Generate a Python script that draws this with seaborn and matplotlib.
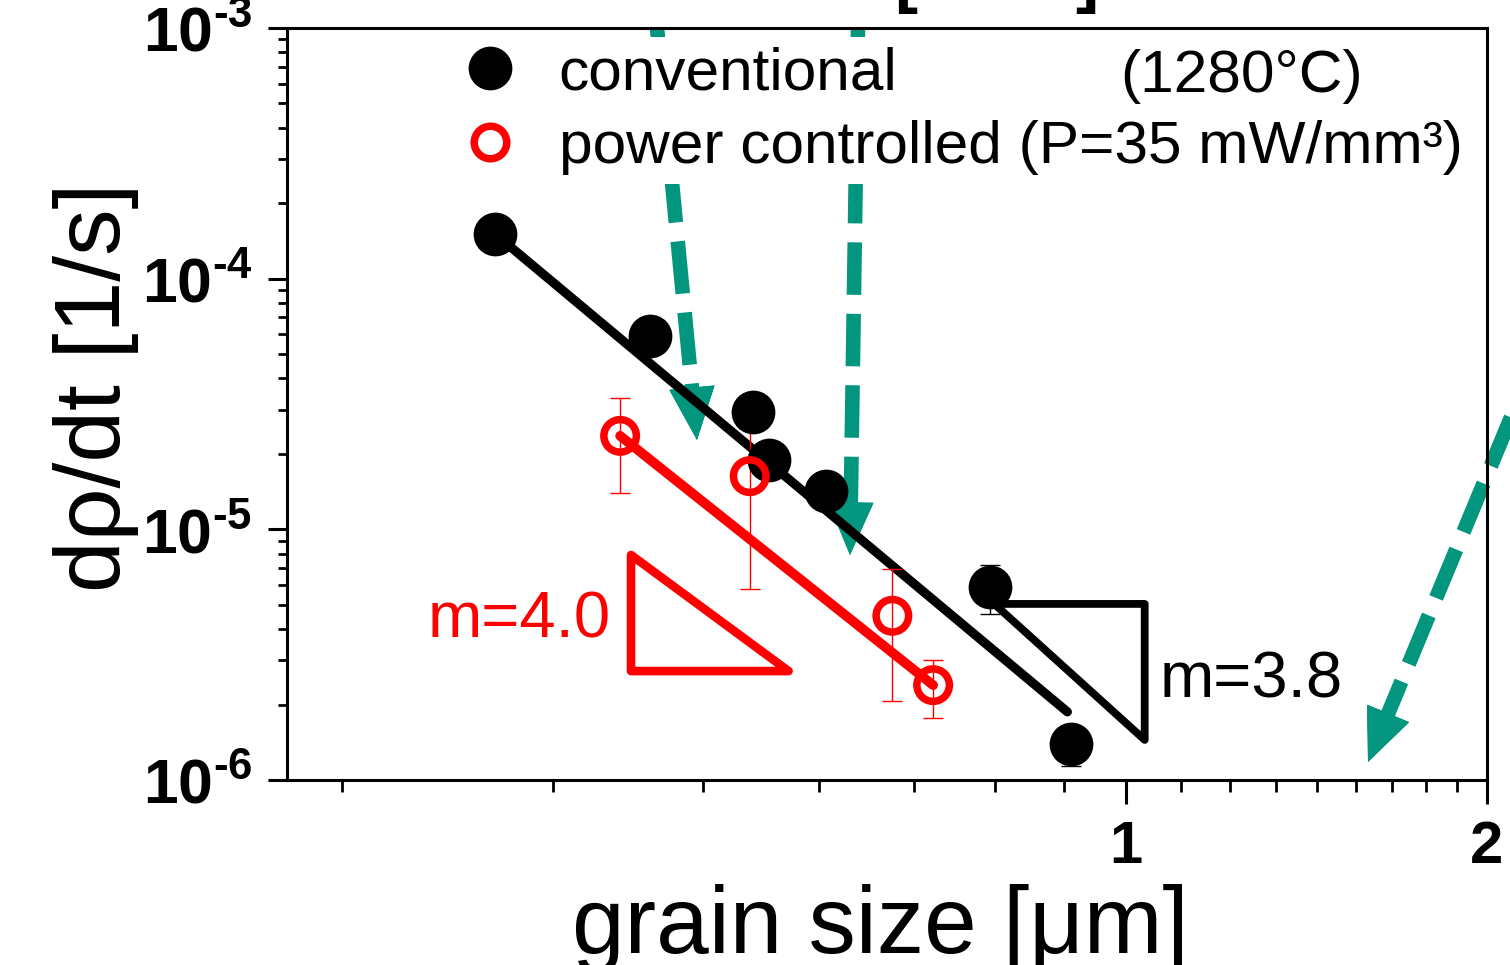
import numpy as np
import matplotlib
matplotlib.use("Agg")
import matplotlib.pyplot as plt
from matplotlib.lines import Line2D
from matplotlib.patches import Polygon
from matplotlib.ticker import FixedLocator, FixedFormatter, LogLocator, NullFormatter
import seaborn as sns
import pandas as pd

# ---------------- data ----------------
conv_size = [0.298, 0.401, 0.489, 0.504, 0.563, 0.771, 0.901]
conv_rate = [1.51e-4, 5.9e-5, 2.94e-5, 1.89e-5, 1.42e-5, 5.89e-6, 1.39e-6]
conv_err = [0, 0, 0, 0, 0, 1.3e-6, 0.25e-6]

pc_size = [0.379, 0.486, 0.639, 0.691]
pc_rate = [2.36e-5, 1.63e-5, 4.52e-6, 2.39e-6]
pc_err = [0.97e-5, 1.05e-5, 2.45e-6, 0.62e-6]

conv_fit_x = [0.298, 0.894]
conv_fit_y = [1.51e-4, 1.87e-6]
pc_fit_x = [0.379, 0.691]
pc_fit_y = [2.36e-5, 2.39e-6]

tri_red_x = [0.387, 0.387, 0.5236]
tri_red_y = [7.9e-6, 2.72e-6, 2.72e-6]
tri_blk_x = [0.777, 1.037, 1.037]
tri_blk_y = [5.04e-6, 5.04e-6, 1.445e-6]

x_major = [1, 2]
x_major_labels = ["1", "2"]
x_minor = [k / 9 for k in range(2, 9)] + [1 + k / 9 for k in range(1, 9)]
y_major = [1e-6, 1e-5, 1e-4, 1e-3]
y_major_labels = [r"$\mathbf{10^{‐6}}$", r"$\mathbf{10^{‐5}}$",
                  r"$\mathbf{10^{‐4}}$", r"$\mathbf{10^{‐3}}$"]

labels = ["conventional", "power controlled (P=35 mW/mm³)"]
temp_label = "(1280°C)"
slope_red = "m=4.0"
slope_blk = "m=3.8"

# overlay arrows (figure pixels, top-left origin): tail, tip
arrows = [((657, 28), (697, 440)),
          ((858, 28), (850, 555)),
          ((1512, 415), (1368, 762))]

# ---------------- style ----------------
sns.set_style("ticks")
plt.rcParams["font.family"] = ["Liberation Sans", "DejaVu Sans"]
plt.rcParams["mathtext.fontset"] = "custom"
plt.rcParams["mathtext.rm"] = "Liberation Sans"
plt.rcParams["mathtext.bf"] = "Liberation Sans:bold"
for k in ["text.color", "axes.labelcolor", "xtick.color", "ytick.color", "axes.edgecolor"]:
    plt.rcParams[k] = "black"

W, H, DPI = 1510, 965, 100
fig = plt.figure(figsize=(W / DPI, H / DPI), dpi=DPI)
fig.patch.set_facecolor("white")
ax = fig.add_axes([287 / W, (H - 780) / H, 1200 / W, 752 / H])
ax.set_facecolor("none")

RED = "#FF0000"
TEAL = "#03967F"

ax.set_xscale("log")
ax.set_yscale("log")
ax.set_xlim(0.2, 2.0)
ax.set_ylim(1e-6, 1e-3)

# fit lines
sns.lineplot(x=conv_fit_x, y=conv_fit_y, ax=ax, color="black", lw=6.6, zorder=2)
sns.lineplot(x=pc_fit_x, y=pc_fit_y, ax=ax, color=RED, lw=7.0, zorder=2)

# slope triangles
ax.add_patch(Polygon(np.column_stack([tri_red_x, tri_red_y]), closed=True, fill=False,
                     ec=RED, lw=6.2, joinstyle="round", zorder=2))
ax.add_patch(Polygon(np.column_stack([tri_blk_x, tri_blk_y]), closed=True, fill=False,
                     ec="black", lw=5.6, joinstyle="round", zorder=2))

# error bars
ax.errorbar(conv_size, conv_rate, yerr=conv_err, fmt="none", ecolor="black",
            elinewidth=1.0, capsize=7, capthick=1.0, zorder=3)
ax.errorbar(pc_size, pc_rate, yerr=pc_err, fmt="none", ecolor=RED,
            elinewidth=1.0, capsize=7, capthick=1.0, zorder=3)

# markers
df_c = pd.DataFrame({"size": conv_size, "rate": conv_rate})
df_p = pd.DataFrame({"size": pc_size, "rate": pc_rate})
sns.scatterplot(data=df_c, x="size", y="rate", ax=ax, color="black", s=31.5 ** 2,
                linewidth=0, zorder=4, legend=False)
sns.scatterplot(data=df_p, x="size", y="rate", ax=ax, facecolor="none", edgecolor=RED,
                s=23.4 ** 2, linewidth=5.4, zorder=4, legend=False)
ax.set_xlabel("")
ax.set_ylabel("")

# ticks
ax.xaxis.set_major_locator(FixedLocator(x_major))
ax.xaxis.set_major_formatter(FixedFormatter(x_major_labels))
ax.xaxis.set_minor_locator(FixedLocator(x_minor))
ax.xaxis.set_minor_formatter(NullFormatter())
ax.yaxis.set_major_locator(FixedLocator(y_major))
ax.yaxis.set_major_formatter(FixedFormatter(y_major_labels))
ax.yaxis.set_minor_locator(LogLocator(base=10, subs=np.arange(2, 10)))
ax.yaxis.set_minor_formatter(NullFormatter())

ax.tick_params(axis="x", which="major", length=17, width=2.2, pad=12, labelsize=43,
               direction="out", top=False, colors="black")
ax.tick_params(axis="x", which="minor", length=8.5, width=2.0, direction="out", top=False,
               colors="black")
ax.tick_params(axis="y", which="major", length=14, width=2.2, pad=11, labelsize=45,
               direction="out", right=False, colors="black")
ax.tick_params(axis="y", which="minor", length=6.5, width=2.0, direction="out", right=False,
               colors="black")
for lab in ax.get_xticklabels() + ax.get_yticklabels():
    lab.set_fontweight("bold")
for sp in ax.spines.values():
    sp.set_linewidth(2.2)
    sp.set_color("black")
    sp.set_visible(True)
    sp.set_zorder(6)

# legend (white box hides the overlay arrows behind it)
handles = [Line2D([], [], ls="none", marker="o", color="black", markersize=31.5, mew=0),
           Line2D([], [], ls="none", marker="o", mfc="none", mec=RED, mew=5.4, markersize=23.4)]
leg = ax.legend(handles, labels, loc="upper left",
                bbox_to_anchor=((451 - 287) / 1200, (780 - 37) / 752),
                frameon=True, facecolor="white", edgecolor="none", framealpha=1.0,
                fancybox=False, fontsize=43.5, handlelength=1.0, handletextpad=0.63,
                borderpad=0.15, borderaxespad=0, labelspacing=0.31)
leg.set_zorder(5)
ax.text((1120 - 287) / 1200, (780 - 92) / 752, temp_label, transform=ax.transAxes,
        fontsize=43.5, ha="left", va="baseline", zorder=7)

# slope labels
ax.text((428 - 287) / 1200, (780 - 638) / 752, slope_red, transform=ax.transAxes,
        fontsize=47, color=RED, ha="left", va="baseline")
ax.text((1160 - 287) / 1200, (780 - 698) / 752, slope_blk, transform=ax.transAxes,
        fontsize=47, color="black", ha="left", va="baseline")

# axis labels
fig.text(96 / W, (H - 387) / H, "dρ/dt [1/s]", rotation=90, fontsize=67,
         ha="center", va="center")
fig.text(880 / W, (H - 953) / H, "grain size [μm]", fontsize=68, ha="center", va="baseline")

# cut-off title brackets
fig.text(894 / W, (H - 0.5) / H, "[", fontsize=50, fontweight="bold", ha="left", va="baseline")
fig.text(1075 / W, (H - 0.5) / H, "]", fontsize=50, fontweight="bold", ha="left", va="baseline")

# overlay arrows (behind the axes content)
def fp(p):
    return (p[0] / W, (H - p[1]) / H)

for tail, tip in arrows:
    t = np.array(tail, float)
    e = np.array(tip, float)
    d = e - t
    u = d / np.hypot(*d)
    base = e - u * 48
    ta, ba = fp(t), fp(base)
    fig.add_artist(Line2D([ta[0], ba[0]], [ta[1], ba[1]], transform=fig.transFigure,
                          color=TEAL, lw=10.5, linestyle=(0, (3.6, 1.3)),
                          dash_capstyle="butt", zorder=-1))
    hb = fp(e - u * 52)
    ann = fig.add_artist(plt.annotate("", xy=fp(e), xytext=hb, xycoords="figure fraction",
                                      textcoords="figure fraction",
                                      arrowprops=dict(arrowstyle="-|>,head_length=3.7,head_width=1.6",
                                                      color=TEAL, lw=0.5, shrinkA=0, shrinkB=0)))
    ann.set_zorder(-1)

fig.savefig("out.png", dpi=DPI, facecolor="white")
